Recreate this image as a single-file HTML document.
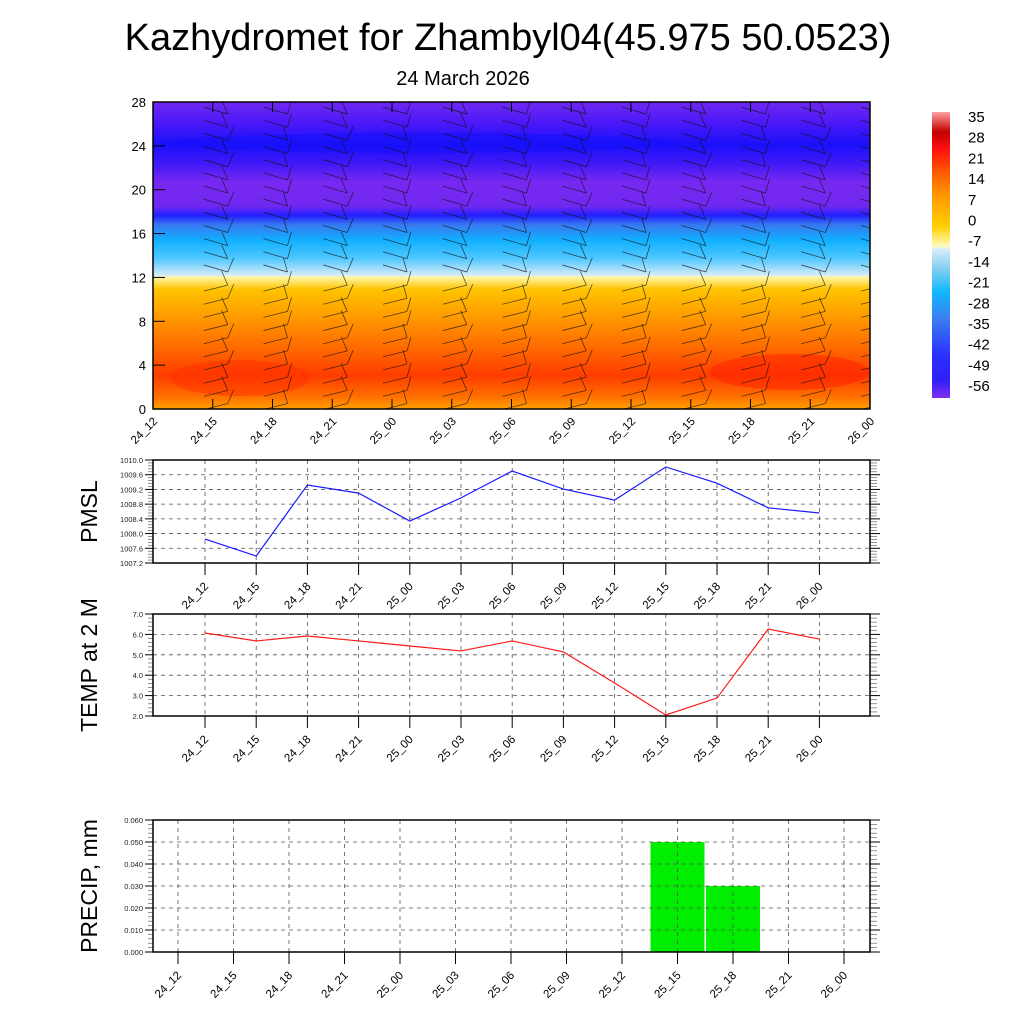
<!DOCTYPE html>
<html><head><meta charset="utf-8"><style>
html,body{margin:0;padding:0;background:#fff;}
svg{display:block;font-family:"Liberation Sans",sans-serif;}
</style></head><body>
<svg id="svg" width="1024" height="1024" viewBox="0 0 1024 1024" xmlns="http://www.w3.org/2000/svg">
<defs>
<clipPath id="plotclip"><rect x="153" y="102" width="717" height="307"/></clipPath>
<linearGradient id="tgrad" x1="0" y1="1" x2="0" y2="0">
<stop offset="0" stop-color="#ffa000"/>
<stop offset="0.04" stop-color="#ff7000"/>
<stop offset="0.11" stop-color="#ff3c00"/>
<stop offset="0.2" stop-color="#ff6a00"/>
<stop offset="0.3" stop-color="#ff9a00"/>
<stop offset="0.39" stop-color="#ffc400"/>
<stop offset="0.43" stop-color="#fff6a8"/>
<stop offset="0.435" stop-color="#d8ecf8"/>
<stop offset="0.49" stop-color="#50c8ff"/>
<stop offset="0.55" stop-color="#10b0ff"/>
<stop offset="0.6" stop-color="#3878f0"/>
<stop offset="0.63" stop-color="#2020ff"/>
<stop offset="0.66" stop-color="#7028f0"/>
<stop offset="0.74" stop-color="#7828f0"/>
<stop offset="0.8" stop-color="#4018f8"/>
<stop offset="0.86" stop-color="#1a10fa"/>
<stop offset="0.93" stop-color="#4a18f8"/>
<stop offset="1" stop-color="#7028f0"/>
</linearGradient>
<linearGradient id="cgrad" x1="0" y1="1" x2="0" y2="0">
<stop offset="0" stop-color="#8030f0"/>
<stop offset="0.06" stop-color="#3020f8"/>
<stop offset="0.15" stop-color="#2a30ff"/>
<stop offset="0.28" stop-color="#3a80f0"/>
<stop offset="0.37" stop-color="#10b8ff"/>
<stop offset="0.45" stop-color="#80cef0"/>
<stop offset="0.52" stop-color="#d8ecf8"/>
<stop offset="0.53" stop-color="#fffac0"/>
<stop offset="0.6" stop-color="#ffd000"/>
<stop offset="0.72" stop-color="#ff9000"/>
<stop offset="0.8" stop-color="#ff5000"/>
<stop offset="0.87" stop-color="#ff1010"/>
<stop offset="0.93" stop-color="#c00000"/>
<stop offset="1" stop-color="#ffa0a0"/>
</linearGradient>
</defs>
<text x="508" y="50" font-size="38" text-anchor="middle">Kazhydromet for Zhambyl04(45.975 50.0523)</text>
<text x="463" y="85" font-size="20" text-anchor="middle">24 March 2026</text>
<g id="topsec">
<rect x="153" y="102" width="717" height="307" fill="url(#tgrad)"/>
<ellipse cx="240" cy="378" rx="70" ry="18" fill="#ff3000" opacity="0.5"/>
<ellipse cx="790" cy="372" rx="80" ry="18" fill="#ff2000" opacity="0.5"/>
<ellipse cx="420" cy="143" rx="260" ry="10" fill="#1510fa" opacity="0.6"/>
<g id="barbs" clip-path="url(#plotclip)"></g>
<rect x="153" y="102" width="717" height="307" fill="none" stroke="#000" stroke-width="1.5"/>
<g id="topaxes"></g>
</g>
<rect x="932" y="112" width="18" height="286" fill="url(#cgrad)"/>
<g id="cbl"></g>
<g id="pmsl"></g>
<g id="temp"></g>
<g id="precip"></g>
</svg>
<script>
const cats=["24_12","24_15","24_18","24_21","25_00","25_03","25_06","25_09","25_12","25_15","25_18","25_21","26_00"];
const pmslVals=[1007.85,1007.39,1009.32,1009.1,1008.34,1008.97,1009.7,1009.21,1008.91,1009.81,1009.37,1008.7,1008.56];
const tempVals=[6.07,5.68,5.92,5.68,5.43,5.19,5.68,5.14,3.62,2.05,2.88,6.26,5.77];
const precipVals=[0,0,0,0,0,0,0,0,0,0.05,0.03,0,0];
const pmslTicks=["1007.2","1007.6","1008.0","1008.4","1008.8","1009.2","1009.6","1010.0"];
const tempTicks=["2.0","3.0","4.0","5.0","6.0","7.0"];
const precipTicks=["0.000","0.010","0.020","0.030","0.040","0.050","0.060"];
const heightTicks=[0,4,8,12,16,20,24,28];
const cbLabels=["35","28","21","14","7","0","-7","-14","-21","-28","-35","-42","-49","-56"];
const NS="http://www.w3.org/2000/svg";
function mk(t,a,p){const e=document.createElementNS(NS,t);for(const k in a)e.setAttribute(k,a[k]);p.appendChild(e);return e;}
function xl(g,x,y,s){const t=mk('text',{x:x,y:y,'font-size':11.5,'text-anchor':'end',transform:`rotate(-45 ${x} ${y})`},g);t.textContent=s;return t;}

const topAx=document.getElementById('topaxes');
const tx=i=>153+i*(717/12), ty=v=>409-v*(307/28);
cats.forEach((c,i)=>{
 const x=tx(i);
 const l=mk('line',{x1:x,y1:409,x2:x,y2:399,stroke:'#000'},topAx);
 
 
 const l2=mk('line',{x1:x,y1:102,x2:x,y2:112,stroke:'#000'},topAx);
 
 
 const t=xl(topAx,x+5,422,c);
 
 
});
heightTicks.forEach(v=>{
 const y=ty(v);
 const l=mk('line',{x1:153,y1:y,x2:165,y2:y,stroke:'#000'},topAx);
 
 
 const t=mk('text',{x:146,y:y+5,'font-size':13,'text-anchor':'end'},topAx);
 t.textContent=v;
 
 
});
const bg=document.getElementById('barbs');
cats.forEach((c,i)=>{
 const cx=tx(i)+(i==0?-8:15);
 for(let h=0.5;h<28;h+=1.2){
  const y=ty(h);
  const w=i%2?6:-4;
  const b=mk('line',{x1:cx,y1:y,x2:cx-24,y2:y-(h<12?-6:7),stroke:'#111','stroke-width':0.8,opacity:0.7},bg);
  
  
  const s=mk('line',{x1:cx,y1:y,x2:cx+(h%3<1.5?w:-w),y2:y-14,stroke:'#111','stroke-width':0.8,opacity:0.7},bg);
  
  
 }
});
const cb=document.getElementById('cbl');
cbLabels.forEach((s,i)=>{
 const t=mk('text',{x:968,y:122+i*20.7,'font-size':15},cb);
 t.textContent=s;
 
 
});

function panel(gid,name,pTop,pBot,x0,step,ticks,vmin,vmax,label,tfs){
 const g=document.getElementById(gid);
 const L=153,R=870;
 const fy=v=>pBot-(v-vmin)/(vmax-vmin)*(pBot-pTop);
 const fx=i=>x0+i*step;
 ticks.forEach((s,k)=>{
  const v=parseFloat(s), y=fy(v);
  if(k>0&&k<ticks.length-1){
   const gl=mk('line',{x1:L,y1:y,x2:R,y2:y,stroke:'#555','stroke-dasharray':'4 4','stroke-width':0.8},g);
   
   
  }
  const tl=mk('line',{x1:L-8,y1:y,x2:L,y2:y,stroke:'#000'},g);
  
  
  const tr=mk('line',{x1:R,y1:y,x2:R+10,y2:y,stroke:'#000'},g);
  
  
  const t=mk('text',{x:L-10,y:y+3,'font-size':tfs,'text-anchor':'end',fill:'#222'},g);
  t.textContent=s;
  
  
  if(k<ticks.length-1){for(let m=1;m<5;m++){const yy=y-(pBot-pTop)/(ticks.length-1)*m/5;
   const ml=mk('line',{x1:L-5,y1:yy,x2:L,y2:yy,stroke:'#666','stroke-width':0.7},g);
   
   
   const mr=mk('line',{x1:R,y1:yy,x2:R+7,y2:yy,stroke:'#666','stroke-width':0.7},g);
   
   }}
 });
 cats.forEach((c,i)=>{
  const x=fx(i);
  const gl=mk('line',{x1:x,y1:pTop,x2:x,y2:pBot,stroke:'#555','stroke-dasharray':'4 4','stroke-width':0.8},g);
  
  
  const tk=mk('line',{x1:x,y1:pBot,x2:x,y2:pBot+12,stroke:'#000'},g);
  
  
  const t=xl(g,x+4,pBot+24,c);
  
  
 });
 const cy=(pTop+pBot)/2;
 const yt=mk('text',{x:97,y:cy,'font-size':23,'text-anchor':'middle',transform:`rotate(-90 97 ${cy})`},g);
 yt.textContent=label;
 
 
 return {g,fx,fy,L,R};
}
function frame(p,fTop,fBot,name){
 const f=mk('rect',{x:p.L,y:fTop,width:p.R-p.L,height:fBot-fTop,fill:'none',stroke:'#000','stroke-width':1.5},p.g);
 
 
}
const p1=panel('pmsl','pmsl',460,563,205,51.2,pmslTicks,1007.2,1010.0,'PMSL',7.5);
const l1=mk('polyline',{points:pmslVals.map((v,i)=>p1.fx(i)+','+p1.fy(v)).join(' '),fill:'none',stroke:'#1a1aff','stroke-width':1.2},p1.g);


frame(p1,460,563,'pmsl');
const p2=panel('temp','temp',614,716,205,51.2,tempTicks,2,7,'TEMP at 2 M',7.5);
const l2=mk('polyline',{points:tempVals.map((v,i)=>p2.fx(i)+','+p2.fy(v)).join(' '),fill:'none',stroke:'#ff1a1a','stroke-width':1.2},p2.g);


frame(p2,614,716,'temp');
const pg=document.getElementById('precip');
const bars=mk('g',{},pg);


const p3=panel('precip','precip',820,952,178,55.5,precipTicks,0,0.06,'PRECIP, mm',7.5);
precipVals.forEach((v,i)=>{
 if(v<=0)return;
 const y=p3.fy(v);
 const r=mk('rect',{x:p3.fx(i)-27,y:y,width:54,height:952-y,fill:'#00ee00'},bars);
 
 
});
frame(p3,820,952,'precip');
</script>
</body></html>
